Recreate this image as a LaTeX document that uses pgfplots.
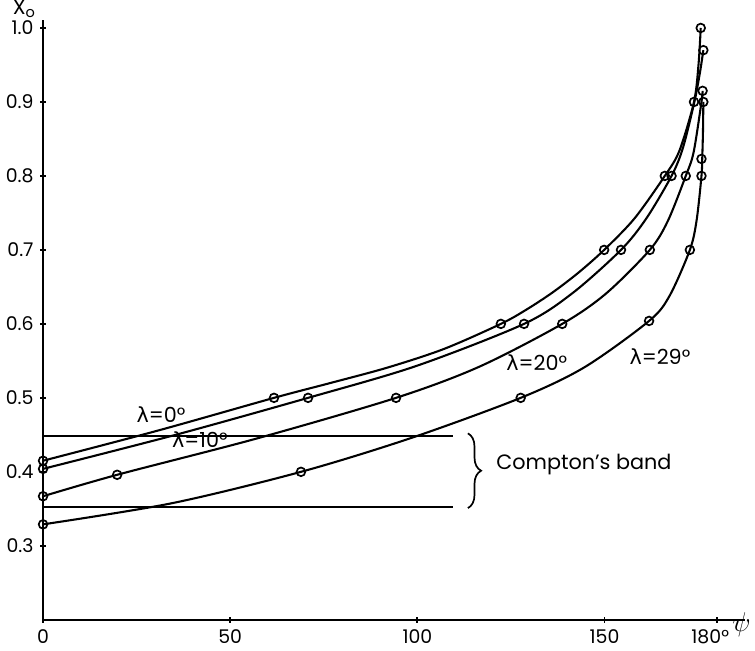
\documentclass[border=0pt]{standalone}
\usepackage{fontspec}
\setmainfont{Poppins}
\newfontfamily\grk{DejaVu Sans}
\usepackage{pgfplots}
\pgfplotsset{compat=1.18}
\usetikzlibrary{decorations.pathreplacing}

\begin{document}
\begin{tikzpicture}
\begin{axis}[
  scale only axis, width=372pt, height=318pt,
  xmin=0, xmax=187.5, ymin=0.2, ymax=1.011,
  axis lines=left, axis line style={-, line width=1.3pt},
  xtick={0,50,100,150}, xticklabels={0,50,100,150},
  extra x ticks={180}, extra x tick labels={180°},
  extra x tick style={tick label style={xshift=-3.5pt}},
  ytick={0.3,0.4,0.5,0.6,0.7,0.8,0.9,1.0},
  yticklabels={0.3,0.4,0.5,0.6,0.7,0.8,0.9,1.0},
  tick style={black, line width=1pt}, major tick length=3pt,
  ticklabel style={font=\fontsize{10}{12}\selectfont},
  clip=false,
  every axis plot/.append style={black},
]
% lambda = 0
\addplot[smooth, line width=1.1pt] coordinates {
  (0,0.415) (30.85,0.456) (61.7,0.50) (76.85,0.5202) (92,0.5409) (107.15,0.5662)
  (122.3,0.60) (129.2,0.6195) (136.1,0.6424) (143,0.6691) (149.9,0.70)
  (158,0.7425) (166.1,0.80) (170,0.834) (173.9,0.90) (175.1,0.95) (175.7,1.0)};
\addplot[only marks, mark=o, mark size=2.3pt, line width=0.9pt] coordinates {
  (0,0.415) (61.7,0.50) (122.3,0.60) (149.9,0.70) (166.1,0.80) (173.9,0.90) (175.7,1.0)};
% lambda = 10
\addplot[smooth, line width=1.1pt] coordinates {
  (0,0.404) (35.4,0.450) (70.8,0.50) (99.65,0.543) (128.5,0.60) (141.45,0.6416)
  (154.4,0.70) (161.15,0.7424) (167.9,0.80) (170.95,0.838) (174,0.90)
  (175.5,0.94) (176.4,0.97)};
\addplot[only marks, mark=o, mark size=2.3pt, line width=0.9pt] coordinates {
  (0,0.404) (70.8,0.50) (128.5,0.60) (154.4,0.70) (167.9,0.80) (176.4,0.97)};
% lambda = 20
\addplot[smooth, line width=1.1pt] coordinates {
  (0,0.367) (19.8,0.396) (57.05,0.445) (94.3,0.50) (116.5,0.542) (138.7,0.60)
  (150.4,0.641) (162.1,0.70) (166.9,0.739) (171.7,0.80) (173.8,0.832)
  (175.9,0.90) (176.2,0.915)};
\addplot[only marks, mark=o, mark size=2.3pt, line width=0.9pt] coordinates {
  (0,0.367) (19.8,0.396) (94.3,0.50) (138.7,0.60) (162.1,0.70) (171.7,0.80)
  (176.4,0.90) (176.2,0.915)};
% lambda = 29
\addplot[smooth, line width=1.1pt] coordinates {
  (0,0.329) (34.45,0.3576) (68.9,0.40) (98.25,0.4456) (127.6,0.50) (144.75,0.5417)
  (161.9,0.604) (167.35,0.6377) (172.8,0.70) (174.6,0.74) (175.9,0.80)
  (176.1,0.823) (176.3,0.86) (176.4,0.90)};
\addplot[only marks, mark=o, mark size=2.3pt, line width=0.9pt] coordinates {
  (0,0.329) (68.9,0.40) (127.6,0.50) (161.9,0.604) (172.8,0.70) (175.9,0.80)
  (175.9,0.823)};
% Compton's band
\addplot[line width=1pt] coordinates {(0,0.448) (109.4,0.448)};
\addplot[line width=1pt] coordinates {(0,0.353) (109.4,0.353)};
\draw[line width=0.9pt, decorate, decoration={brace, amplitude=7pt}]
  (axis cs:113.5,0.452) -- (axis cs:113.5,0.351);
\node[anchor=west, font=\fontsize{11}{13}\selectfont, inner sep=1pt]
  at (axis cs:120.5,0.410) {Compton's band};
% curve labels
\node[font=\fontsize{11}{13}\selectfont] at (axis cs:31.5,0.478) {{\grk λ}=0°};
\node[font=\fontsize{11}{13}\selectfont] at (axis cs:41.9,0.443) {{\grk λ}=10°};
\node[font=\fontsize{11}{13}\selectfont] at (axis cs:131.9,0.547) {{\grk λ}=20°};
\node[font=\fontsize{11}{13}\selectfont] at (axis cs:164.8,0.556) {{\grk λ}=29°};
% axis names
\node[font=\fontsize{11}{13}\selectfont] at (axis cs:-5,1.026) {X\textsubscript{o}};
\node[inner sep=0pt, font=\Large] at (axis cs:186.6,0.193) {$\psi$};
% frame of the whole picture
\coordinate (bl) at (axis cs:-11.5,0.158);
\coordinate (tr) at (axis cs:190.2,1.0378);
\end{axis}
\pgfresetboundingbox
\path (bl) rectangle (tr);
\end{tikzpicture}
\end{document}
